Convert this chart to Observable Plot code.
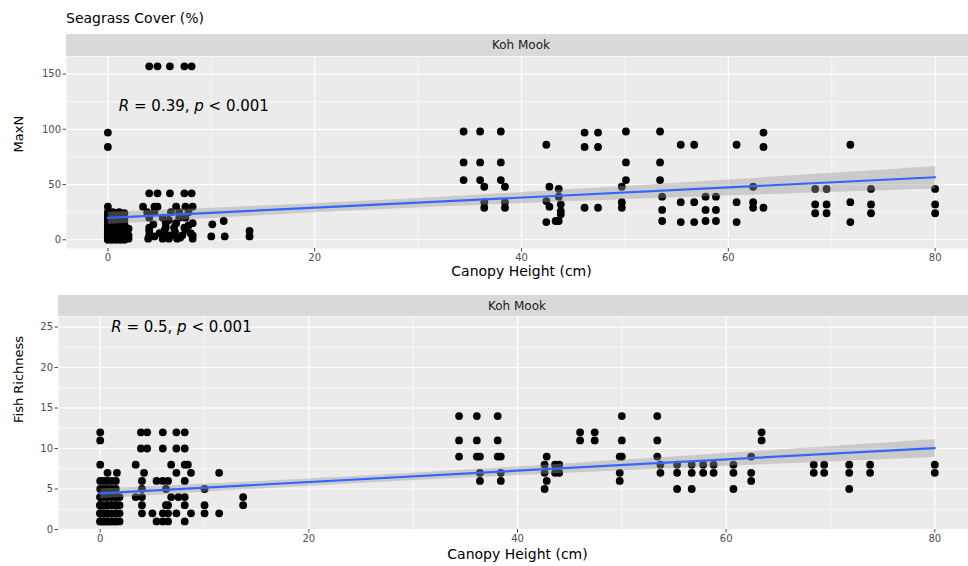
<!DOCTYPE html>
<html><head><meta charset="utf-8">
<script src="https://cdn.jsdelivr.net/npm/d3@7"></script>
<script src="https://cdn.jsdelivr.net/npm/@observablehq/plot@0.6"></script>
<style>
body{margin:0;background:#fff;font-family:"DejaVu Sans",sans-serif;}
#wrap{position:relative;width:968px;height:566px;overflow:hidden;background:#fff;}
#title{position:absolute;left:66px;top:10px;font-size:14px;color:#000;white-space:nowrap;}
#p1{position:absolute;left:0;top:0;width:976px;}
#p2{position:absolute;left:0;top:285px;width:976px;}
</style></head><body>
<div id="wrap"><div id="p1"></div><div id="p2"></div><div id="title"></div></div>
<script>
// ---------- data ----------
const chartTitle = "Seagrass Cover (%)";
const facetLabel = "Koh Mook";
const xLabel = "Canopy Height (cm)";
const xTicks = [0, 20, 40, 60, 80];
const xMinor = [10, 30, 50, 70];

const maxNLabel = "MaxN";
const maxNTicks = [0, 50, 100, 150];
const maxNMinor = [25, 75, 125];
const maxNCorr = "R = 0.39, p < 0.001";

const richLabel = "Fish Richness";
const richTicks = [0, 5, 10, 15, 20, 25];
const richMinor = [2.5, 7.5, 12.5, 17.5, 22.5];
const richCorr = "R = 0.5, p < 0.001";

// [canopy height, MaxN]  (many overlapping points in the dense low clusters)
const maxNPoints = [
  [0,97],[0,84],[0,30],[0,20],[0,16],[0,11],[0,8],[0,5],[0,2],[0,0],
  [0,3],[0,6],[0,9],[0,13],[0,18],[0,22],[0,25],[0,1],[0,4],[0,7],
  [0.4,0],[0.4,3],[0.4,6],[0.4,9],[0.4,12],[0.4,15],[0.4,18],[0.4,22],
  [0.5,25],[1.1,25],[0.8,20],[0.8,16],[0.8,11],[1.6,11],[0.8,5],[1.6,5],[0.8,2],[1.6,2],[0.8,0],[1.6,0],[1.2,8],
  [0.8,3],[0.8,7],[0.8,9],[0.8,13],[0.8,24],
  [1.2,0],[1.2,3],[1.2,5],[1.2,11],[1.2,14],[1.2,18],[1.2,22],
  [1.6,3],[1.6,8],[1.6,14],[1.6,18],[1.6,24],
  [2,1],[2,4],[2,10],[0.4,1],[0.8,1],[1.2,1],[0,10],
  [4.0,157],[4.8,157],[6.0,157],[7.4,157],[8.1,157],
  [4.0,42],[4.8,42],[6.0,42],[7.4,42],[8.1,42],
  [3.4,30],[4.5,30],[4.8,30],[6.6,30],[7.5,30],[8.2,30],
  [3.8,25],[4.5,25],[6.1,25],[6.9,25],[7.8,25],
  [4.0,20],[5.3,20],[6.9,20],[7.5,20],
  [5.6,15],[6.6,15],[8.2,15],[10.1,14],[11.2,17],
  [4.0,11],[5.6,11],[6.4,11],[7.4,11],
  [4.0,4],[5.6,4],[6.4,4],[7.2,4],[8.2,4],[10,3],[11.3,3],[13.7,8],[13.7,3],
  [3.9,1],[5.3,1],[5.9,1],[6.7,1],[8.2,1],
  [4,8],[4.5,3],[5,6],[5.5,9],[6,4],[6.5,7],[7,2],[7.5,9],[8,6],[4.4,14],[5.9,18],[7.8,13],
  [34.4,98],[34.4,70],[34.4,54],
  [36.0,98],[36.0,70],[36.0,54],[36.4,48],[36.4,34],[36.4,29],
  [38.0,98],[38.0,70],[38.0,54],[38.4,48],[38.4,34],[38.4,29],
  [42.4,86],[42.7,48],[42.4,35],[42.7,30],[43.6,46],[43.6,39],[43.8,32],[43.8,26],[43.8,23],[43.3,17],[42.4,16],[43.6,17],
  [46.1,97],[46.1,84],[46.1,29],[47.4,97],[47.4,84],[47.4,29],
  [50.1,98],[50.1,70],[50.1,54],[49.7,48],[49.7,34],[49.7,29],
  [53.4,98],[53.4,70],[53.4,54],[53.6,39],[53.6,27],[53.6,17],
  [55.4,86],[55.4,34],[55.4,16],[56.7,86],[56.7,34],[56.7,16],
  [57.8,39],[57.8,27],[57.8,17],[58.8,39],[58.8,27],[58.8,17],
  [60.8,86],[60.8,34],[60.8,16],
  [62.4,48],[62.4,34],[62.4,29],
  [63.4,97],[63.4,84],[63.4,29],
  [68.4,46],[68.4,32],[68.4,24],[69.5,46],[69.5,32],[69.5,24],
  [71.8,86],[71.8,34],[71.8,16],
  [73.8,46],[73.8,32],[73.8,24],
  [80,46],[80,32],[80,24]
];

// [canopy height, fish richness]
const richPoints = [
  [0,12],[0,11],[0,8],[0,6],[0,5],[0,4],[0,3],[0,2],[0,1],
  [0,2],[0,3],[0,4],[0,1],[0,2],[0,3],
  [0.35,1],[0.35,2],[0.35,3],[0.35,4],[0.35,5],[0.35,6],[0.35,1],[0.35,2],
  [0.7,7],[1.6,7],[0.7,6],[1.5,6],[0.7,4],[1.5,4],[1.85,4],[0.7,3],[1.5,3],[0.7,2],[1.5,2],[1.85,2],[0.7,1],[1.5,1],
  [0.7,5],[1.5,5],[0.7,2],[0.7,3],[1.5,2],[1.5,3],[1.85,1],[1.85,3],[0.7,1],[1.5,1],
  [1.1,1],[1.1,2],[1.1,3],[1.1,4],[1.1,5],[1.1,6],[1.1,1],[1.1,3],
  [3.9,12],[4.5,12],[6.0,12],[7.3,12],[8.1,12],
  [3.9,10],[4.5,10],[6.0,10],[7.3,10],[8.1,10],
  [3.4,8],[6.8,8],[8.1,8],[8.4,8],
  [4.2,7],[7.3,7],[8.7,7],[11.4,7],
  [4.0,6],[5.4,6],[6.0,6],[6.5,6],[8.1,6],
  [4.0,5],[6.3,5],[10,5],
  [3.4,4],[4.0,4],[6.8,4],[7.5,4],[8.1,4],[13.7,4],
  [4.0,3],[6.3,3],[8.1,3],[10,3],[13.7,3],[6.5,3],
  [4.0,2],[6.0,2],[6.5,2],[7.3,2],[8.7,2],[10,2],[11.4,2],[5,2],
  [5.4,1],[6.0,1],[6.5,1],[8.1,1],
  [34.4,14],[34.4,11],[34.4,9],
  [36.1,14],[36.1,11],[36.1,9],[36.4,9],[36.4,7],[36.4,6],
  [38.1,14],[38.1,11],[38.1,9],[38.4,9],[38.4,7],[38.4,6],
  [42.8,9],[42.6,8],[42.6,7],[42.8,6],[42.6,5],[43.6,8],[43.6,7],[44,8],[44,7],
  [46.0,12],[46.0,11],[47.4,12],[47.4,11],
  [50.0,14],[50.0,11],[50.0,9],[49.8,9],[49.8,7],[49.8,6],
  [53.4,14],[53.4,11],[53.4,9],[53.7,8],[53.7,7],
  [55.3,8],[55.3,7],[55.3,5],[56.7,8],[56.7,7],[56.7,5],
  [57.8,8],[57.8,7],[58.8,8],[58.8,7],
  [60.7,8],[60.7,7],[60.7,5],
  [62.4,9],[62.4,7],[62.4,6],
  [63.4,12],[63.4,11],
  [68.4,8],[68.4,7],[69.4,8],[69.4,7],
  [71.8,8],[71.8,7],[71.8,5],
  [73.8,8],[73.8,7],
  [80,8],[80,7]
];

// ---------- drawing ----------
const FONT = "DejaVu Sans, sans-serif";

function panel(cfg) {
  const svg = Plot.plot({
    width: 976, height: cfg.height,
    marginLeft: cfg.marginLeft, marginRight: 0,
    marginTop: cfg.marginTop, marginBottom: cfg.marginBottom,
    style: {fontFamily: FONT, background: "transparent", overflow: "visible", maxWidth: "none"},
    x: {domain: [-4, 84]},
    y: {domain: cfg.yDomain},
    marks: [
      Plot.frame({fill: "#EBEBEB", stroke: null}),
      Plot.ruleX(xMinor, {stroke: "#fff", strokeWidth: 0.6}),
      Plot.ruleY(cfg.yMinor, {stroke: "#fff", strokeWidth: 0.6}),
      Plot.ruleX(xTicks, {stroke: "#fff", strokeWidth: 1.2}),
      Plot.ruleY(cfg.yTicks, {stroke: "#fff", strokeWidth: 1.2}),
      Plot.axisX(xTicks, {tickSize: 3.5, tickPadding: 2, fontSize: 10, color: "#4D4D4D", label: null}),
      Plot.axisY(cfg.yTicks, {tickSize: 3.5, tickPadding: 2, fontSize: 10, color: "#4D4D4D", label: null}),
      Plot.dot(cfg.points, {x: d => d[0], y: d => d[1], r: 3.9, fill: "#000", stroke: null}),
      Plot.linearRegressionY(cfg.points, {x: d => d[0], y: d => d[1], stroke: "#3366FF", strokeWidth: 2.2, fill: "#999999", fillOpacity: 0.4}),
      Plot.text([{t: cfg.corr, x: cfg.corrAt[0], y: cfg.corrAt[1]}], {x: "x", y: "y", text: "t", textAnchor: "start", fontSize: 15, fill: "#000"}),
      Plot.text([xLabel], {frameAnchor: "bottom", dy: cfg.xLabelDy, fontSize: 14, fill: "#000"}),
      Plot.text([cfg.yLabel], {frameAnchor: "left", rotate: -90, dx: cfg.yLabelDx, fontSize: 13, fill: "#000"})
    ]
  });
  const s = d3.select(svg);
  // facet strip
  const x0 = cfg.marginLeft, w = 976 - cfg.marginLeft;
  s.append("rect").attr("x", x0).attr("y", cfg.marginTop - cfg.stripH)
    .attr("width", w).attr("height", cfg.stripH).attr("fill", "#D9D9D9");
  s.append("text").attr("x", x0 + w / 2).attr("y", cfg.marginTop - cfg.stripH / 2)
    .attr("dy", "0.35em").attr("text-anchor", "middle").attr("font-size", 12)
    .attr("font-family", FONT).attr("fill", "#1A1A1A").text(facetLabel);
  // italic R and p in the correlation label
  s.selectAll("text").filter(function () { return this.textContent === cfg.corr; })
    .each(function () {
      const el = d3.select(this);
      const m = cfg.corr.match(/^R( = [^,]+, )p( .*)$/);
      el.text(null).style("white-space", "pre");
      el.append("tspan").attr("font-style", "italic").text("R");
      el.append("tspan").text(m[1]);
      el.append("tspan").attr("font-style", "italic").text("p");
      el.append("tspan").text(m[2]);
    });
  return svg;
}

document.getElementById("title").textContent = chartTitle;

document.getElementById("p1").appendChild(panel({
  points: maxNPoints, yDomain: [-7.9, 165.9], yTicks: maxNTicks, yMinor: maxNMinor,
  yLabel: maxNLabel, corr: maxNCorr, corrAt: [1.06, 121],
  height: 285, marginLeft: 66, marginTop: 56, marginBottom: 37, stripH: 22,
  xLabelDy: 27, yLabelDx: -48
}));

document.getElementById("p2").appendChild(panel({
  points: richPoints, yDomain: [0, 26.3], yTicks: richTicks, yMinor: richMinor,
  yLabel: richLabel, corr: richCorr, corrAt: [1.05, 25],
  height: 281, marginLeft: 58, marginTop: 31, marginBottom: 37, stripH: 21,
  xLabelDy: 29, yLabelDx: -40
}));
</script>
</body></html>
